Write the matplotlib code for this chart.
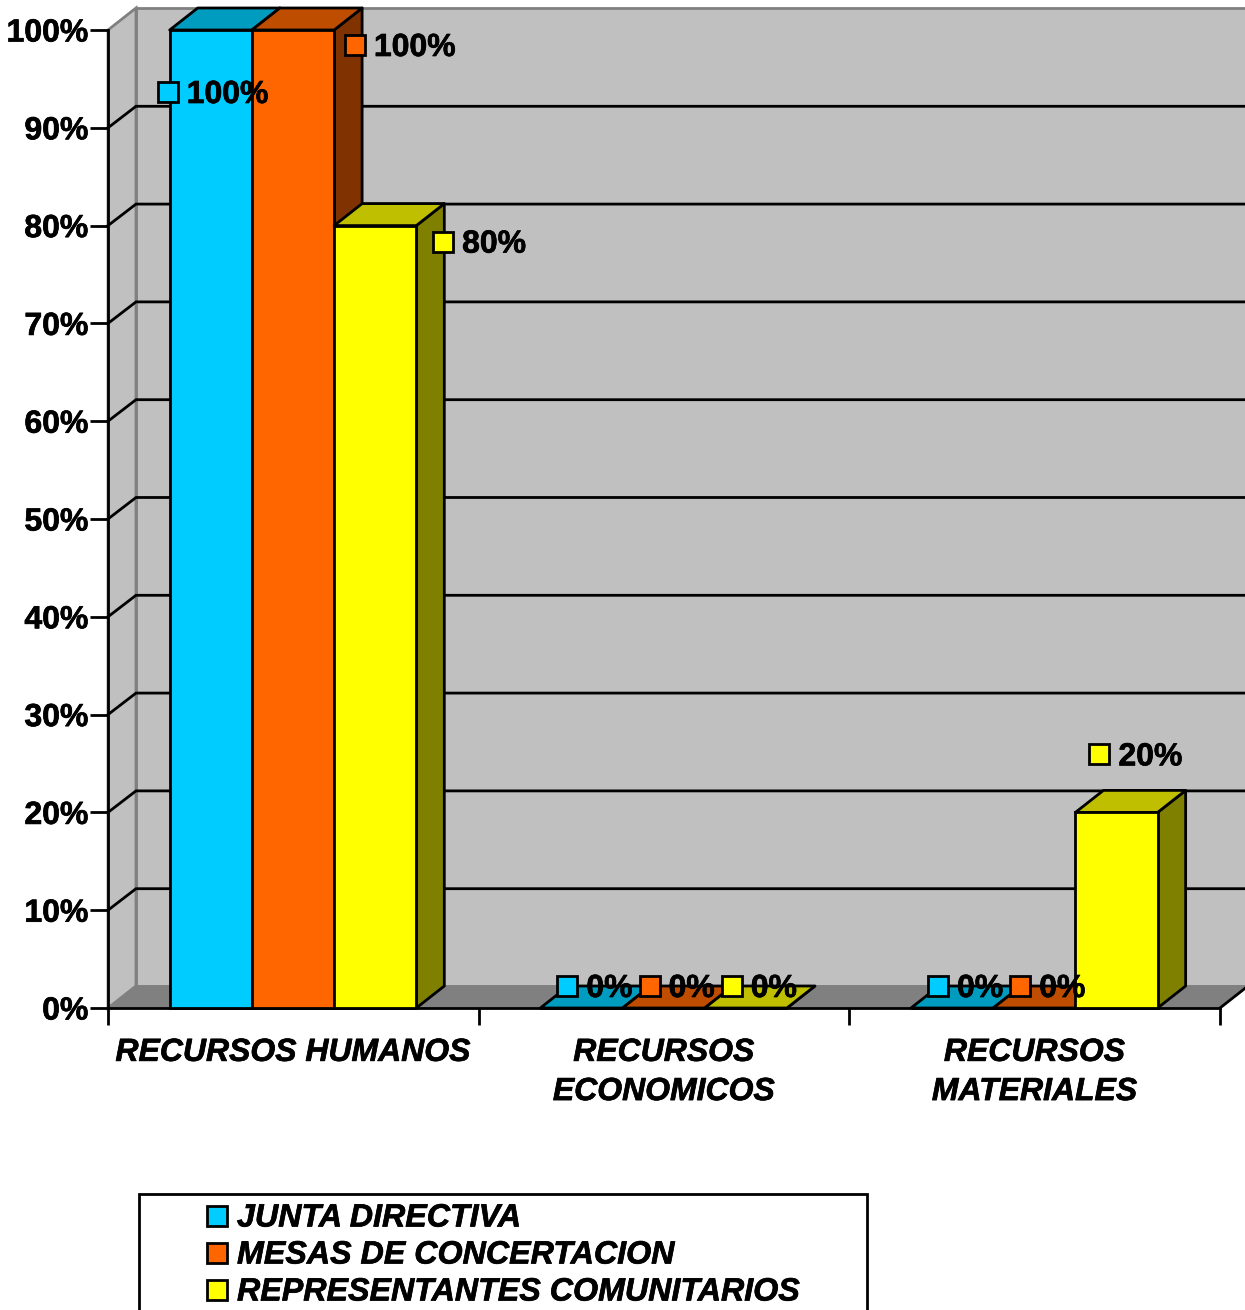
import matplotlib
matplotlib.use("Agg")
import matplotlib.pyplot as plt
import matplotlib.patheffects as pe
from matplotlib.patches import Polygon, Rectangle
from matplotlib.transforms import offset_copy
import numpy as np

categorias = ["RECURSOS HUMANOS", "RECURSOS\nECONOMICOS", "RECURSOS\nMATERIALES"]
series = ["JUNTA DIRECTIVA", "MESAS DE CONCERTACION", "REPRESENTANTES COMUNITARIOS"]
junta = [100, 0, 0]
mesas = [100, 0, 0]
representantes = [80, 0, 20]
valores = [junta, mesas, representantes]

# front, top, side
colores = [("#00CCFF", "#009CBF", "#006680"),
           ("#FF6600", "#BF4D00", "#803300"),
           ("#FFFF00", "#BFBF00", "#808000")]

# decalage des etiquettes par rapport au coin haut gauche de la barre (pixels)
decalages = {(0, 0): (-2, -62), (1, 0): (103, -15), (2, 0): (109, -16),
             (2, 2): (24, 58)}

W, H = 1245, 1310
plt.rcParams["font.family"] = ["Liberation Sans", "DejaVu Sans"]
fig = plt.figure(figsize=(W / 100, H / 100), dpi=100, facecolor="white")
ax = fig.add_axes([108 / W, 1 - 1008 / H, (1220 - 108) / W, (1008 - 30) / H])
ax.set_xlim(0, 3)
ax.set_ylim(0, 100)
ax.patch.set_visible(False)

# texte un peu plus gras
gras = [pe.withStroke(linewidth=0.5, foreground="black")]

# profondeur 3D en unites de donnees
dx = 28 / (1112 / 3)
dy = 22 / 9.78
marge = 61.7 / (1112 / 3)
largeur = 82.2 / (1112 / 3)

# murs et sol
ax.add_patch(Polygon([(dx, dy), (3 + dx, dy), (3 + dx, 100 + dy), (dx, 100 + dy)],
                     fc="#C0C0C0", ec="#808080", lw=2, clip_on=False, zorder=1))
ax.add_patch(Polygon([(0, 0), (dx, dy), (dx, 100 + dy), (0, 100)],
                     fc="#C0C0C0", ec="#808080", lw=2, clip_on=False, zorder=1))
ax.add_patch(Polygon([(0, 0), (dx, dy), (3 + dx, dy), (3, 0)],
                     fc="#808080", ec="#808080", lw=1, clip_on=False, zorder=1))

# grille
for g in np.arange(10, 100, 10):
    ax.plot([0, dx, 3 + dx], [g, g + dy - 0.05, g + dy - 0.05], color="black", lw=2,
            clip_on=False, zorder=2, solid_joinstyle="miter")
ax.plot([3, 3 + dx], [0, dy], color="black", lw=2, clip_on=False, zorder=2)

# barres
for i in range(3):
    for j in range(3):
        x0 = i + marge + j * largeur
        h = valores[j][i]
        front, top, side = colores[j]
        z = 3 + (i * 3 + j) * 0.1
        ax.add_patch(Polygon([(x0 + largeur, 0), (x0 + largeur + dx, dy),
                              (x0 + largeur + dx, h + dy), (x0 + largeur, h)],
                             fc=side, ec="black", lw=2, clip_on=False, zorder=z,
                             joinstyle="round"))
        ax.add_patch(Polygon([(x0, h), (x0 + dx, h + dy),
                              (x0 + largeur + dx, h + dy), (x0 + largeur, h)],
                             fc=top, ec="black", lw=2, clip_on=False, zorder=z,
                             joinstyle="round"))
        ax.bar(x0, h, largeur, align="edge", color=front, edgecolor="black",
               linewidth=2, clip_on=False, zorder=z + 0.01)

# etiquettes
for i in range(3):
    for j in range(3):
        h = valores[j][i]
        x0 = i + marge + j * largeur
        ox, oy = decalages.get((j, i), (27, 22))
        tr = offset_copy(ax.transData, fig, x=ox, y=oy, units="dots")
        ax.plot([x0], [h], "s", ms=14.5, mfc=colores[j][0], mec="black", mew=2,
                transform=tr, clip_on=False, zorder=10)
        tr2 = offset_copy(ax.transData, fig, x=ox + 19, y=oy - 3, units="dots")
        ax.text(x0, h, "%d%%" % h, transform=tr2, fontsize=23, fontweight="bold",
                ha="left", va="center", zorder=11, clip_on=False, path_effects=gras)

# axes
for s in ["top", "right"]:
    ax.spines[s].set_visible(False)
for s in ["left", "bottom"]:
    ax.spines[s].set_linewidth(2)
    ax.spines[s].set_zorder(2.5)
ax.set_yticks(np.arange(0, 101, 10))
ax.set_yticklabels(["%d%%" % v for v in np.arange(0, 101, 10)], fontsize=23,
                   fontweight="bold", path_effects=gras)
ax.tick_params(axis="y", length=13, width=2, pad=1)
ax.set_xticks([0, 1, 2, 3])
ax.set_xticklabels([])
ax.tick_params(axis="x", which="major", length=12.5, width=2)
ax.set_xticks([0.5, 1.5, 2.5], minor=True)
ax.set_xticklabels(categorias, minor=True, fontsize=23, fontweight="bold",
                   fontstyle="italic", linespacing=1.4, path_effects=gras)
ax.tick_params(axis="x", which="minor", length=0, pad=21.5)

# legende
fig.add_artist(Rectangle((139 / W, -0.01), (867 - 139) / W, 1 - 1194 / H + 0.01,
                         fc="white", ec="black", lw=2, transform=fig.transFigure))
for k, nom in enumerate(series):
    yc = 1 - (1216 + k * 37) / H
    fig.add_artist(Rectangle((207 / W, yc - 10 / H), 20 / W, 20 / H, fc=colores[k][0],
                             ec="black", lw=2, transform=fig.transFigure))
    fig.text(237 / W, yc - 2.5 / H, nom, fontsize=23.2, fontweight="bold", fontstyle="italic",
             ha="left", va="center", path_effects=gras)

fig.savefig("out.png", dpi=100)
